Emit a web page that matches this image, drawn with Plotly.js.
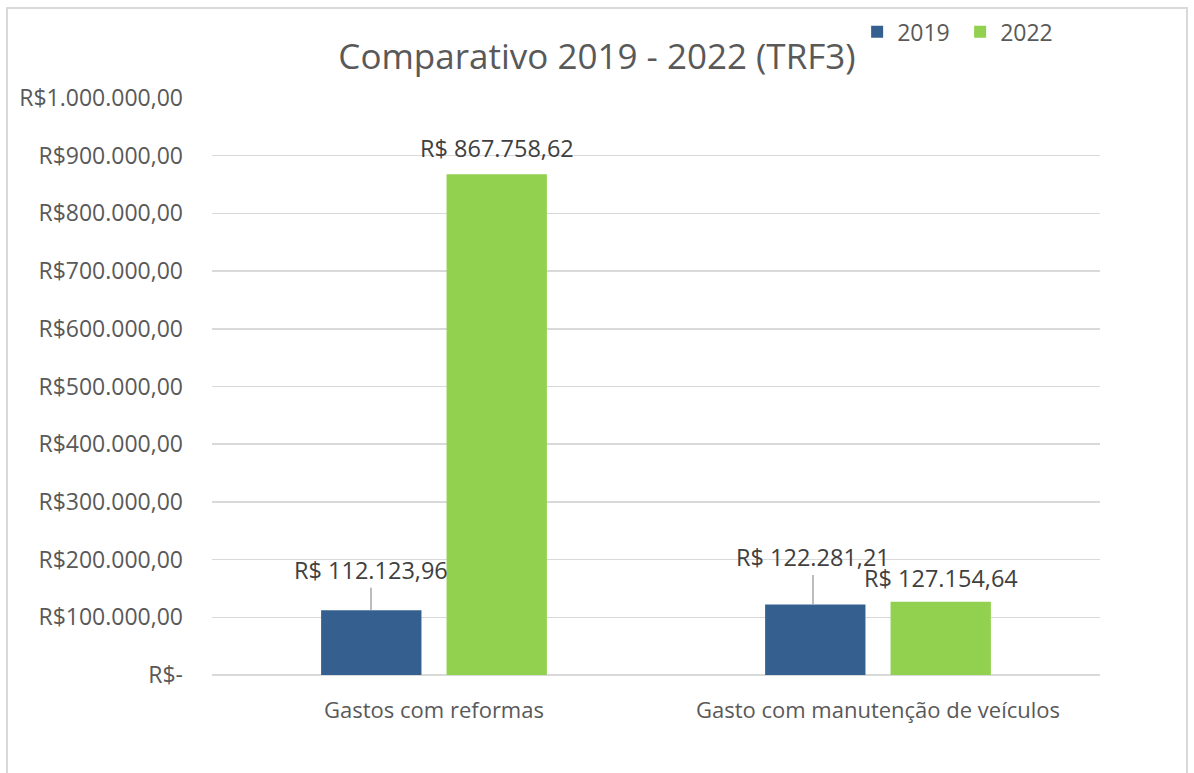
<!DOCTYPE html>
<html>
<head>
<meta charset="utf-8">
<script src="https://cdn.plot.ly/plotly-3.0.1.min.js"></script>
<style>
  html, body { margin: 0; padding: 0; background: #fff; overflow: hidden; }
  #frame { position: absolute; left: 6px; top: 7px; width: 1182px; height: 800px; border: 2px solid #d9d9d9; box-sizing: border-box; pointer-events: none; z-index: 10; }
  #chart { position: absolute; left: 0; top: 0; width: 1194px; height: 773px; }
</style>
</head>
<body>
<div id="chart"></div>
<div id="frame"></div>
<script>
const categories = ["Gastos com reformas", "Gasto com manutenção de veículos"];
const seriesNames = ["2019", "2022"];
const values2019 = [112123.96, 122281.21];
const values2022 = [867758.62, 127154.64];
const tickValues = [0, 100000, 200000, 300000, 400000, 500000, 600000, 700000, 800000, 900000, 1000000];
const tickLabels = ["R$-", "R$100.000,00", "R$200.000,00", "R$300.000,00", "R$400.000,00", "R$500.000,00", "R$600.000,00", "R$700.000,00", "R$800.000,00", "R$900.000,00", "R$1.000.000,00"];

function brl(v) {
  const parts = v.toFixed(2).split(".");
  const intPart = parts[0].replace(/\B(?=(\d{3})+(?!\d))/g, ".");
  return "R$ " + intPart + "," + parts[1];
}

const FONT = "Open Sans, sans-serif";
const TXT = "#595959";

const traces = [
  { type: "bar", name: seriesNames[0], x: categories, y: values2019, marker: { color: "#355f8f" }, hoverinfo: "none" },
  { type: "bar", name: seriesNames[1], x: categories, y: values2022, marker: { color: "#92d050" }, hoverinfo: "none" }
];

// label settings: [xshift, offset above bar top (px), leader line]
const labelCfg2019 = [[-63, 40, true], [-65, 47, true]];
const labelCfg2022 = [[63, 26, false], [63, 24, false]];

const annotations = [];
function addLabels(vals, cfg) {
  vals.forEach((v, i) => {
    const [xs, off, line] = cfg[i];
    if (line) {
      annotations.push({
        x: categories[i], y: v, xref: "x", yref: "y", text: brl(v),
        showarrow: true, arrowhead: 0, arrowwidth: 1.5, arrowcolor: "#a6a6a6",
        ax: 0, ay: -off, standoff: 0, xshift: xs,
        font: { family: FONT, size: 23.5, color: "#404040" }
      });
    } else {
      annotations.push({
        x: categories[i], y: v, xref: "x", yref: "y", text: brl(v),
        showarrow: false, yanchor: "middle", yshift: off, xshift: xs,
        font: { family: FONT, size: 23.5, color: "#404040" }
      });
    }
  });
}
addLabels(values2019, labelCfg2019);
addLabels(values2022, labelCfg2022);

const layout = {
  width: 1194, height: 773,
  margin: { l: 212, r: 94, t: 97, b: 98 },
  paper_bgcolor: "#ffffff", plot_bgcolor: "#ffffff",
  font: { family: FONT, color: TXT },
  title: {
    text: "Comparativo 2019 - 2022 (TRF3)",
    font: { family: FONT, size: 35, color: TXT },
    xref: "container", x: 0.5, xanchor: "center",
    yref: "container", y: 1 - 57 / 773, yanchor: "middle"
  },
  barmode: "group", bargap: 0.435, bargroupgap: 0.2,
  showlegend: true,
  legend: {
    orientation: "h", x: 0.7265, xanchor: "left", y: 1.15, yanchor: "top",
    font: { family: FONT, size: 23, color: TXT }, bgcolor: "rgba(0,0,0,0)",
    itemclick: false, itemwidth: 30, entrywidth: 58, entrywidthmode: "pixels"
  },
  xaxis: {
    showgrid: false, zeroline: false, showline: false, ticks: "",
    tickfont: { family: FONT, size: 22, color: TXT },
    ticklabelstandoff: 20, fixedrange: true
  },
  yaxis: {
    range: [0, 1000000], tickmode: "array", tickvals: tickValues, ticktext: tickLabels,
    showgrid: true, gridcolor: "#d9d9d9", gridwidth: 1.5,
    zeroline: true, zerolinecolor: "#d9d9d9", zerolinewidth: 1.5,
    showline: false, ticks: "",
    tickfont: { family: FONT, size: 23, color: TXT },
    ticklabelstandoff: 28, fixedrange: true
  },
  annotations: annotations
};

Plotly.newPlot("chart", traces, layout, { displayModeBar: false, staticPlot: true });
</script>
</body>
</html>
